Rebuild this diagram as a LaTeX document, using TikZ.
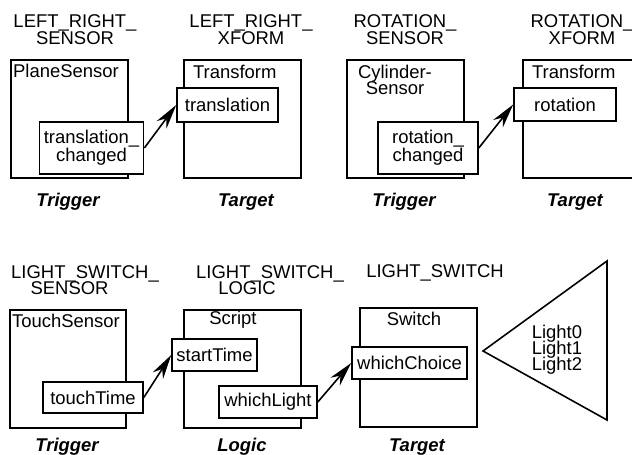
\documentclass[tikz,border=0pt]{standalone}
\usepackage{fontspec}
\setmainfont{Liberation Sans}
\usetikzlibrary{arrows.meta}
\newcommand{\tightlines}{\lineskiplimit=-10pt\relax}

\begin{document}
\begin{tikzpicture}[x=0.02cm, y=-0.02cm,
  every node/.style={font=\fontsize{10.5}{9.5}\selectfont\tightlines},
  blk/.style={draw, line width=0.9pt, inner sep=0pt, anchor=north west,
    minimum width=2.34cm, minimum height=2.36cm},
  port/.style={draw, fill=white, line width=0.9pt, inner xsep=2.5pt, inner ysep=1pt,
    minimum height=0.66cm, font=\fontsize{10.5}{10}\selectfont},
  hdr/.style={align=center},
  role/.style={font=\fontsize{10.5}{10}\selectfont\bfseries\itshape},
  arr/.style={-{Stealth[length=14pt, width=7pt]}, line width=0.9pt}]
  \useasboundingbox (0,0) rectangle (632,455);

  % Headers
  \node[hdr] (h1) at (75,30) {LEFT\_RIGHT\_\\SENSOR};
  \node[hdr] (h2) at (251,30) {LEFT\_RIGHT\_\\XFORM};
  \node[hdr] (h3) at (405,30) {ROTATION\_\\SENSOR};
  \node[hdr] (h4) at (582,30) {ROTATION\_\\XFORM};
  \node[align=left, anchor=west] (h5) at (5,280) {LIGHT\_SWITCH\_\\\hspace{1.05em}SENSOR};
  \node[align=left, anchor=west] (h6) at (190,280) {LIGHT\_SWITCH\_\\\hspace{1.2em}LOGIC};
  \node (h7) at (435,273) {LIGHT\_SWITCH};

  % Top row boxes
  \node[blk] (pls) at (10,59) {};
  \node[blk] (lrx) at (183,59) {};
  \node[blk] (rts) at (346,59) {};
  \node[blk] (rtx) at (522,59) {};
  \node[anchor=west, inner sep=1pt] (plsT) at (11,71) {PlaneSensor};
  \node[anchor=west, inner sep=1pt] (lrxT) at (191,72) {Transform};
  \node[align=center] (rtsT) at (395,80) {Cylinder-\\Sensor};
  \node[anchor=west, inner sep=1pt] (rtxT) at (530,72) {Transform};

  % Top row fields
  \node[port, minimum width=2.02cm, minimum height=1.04cm, align=center] (tc) at (91.5,148) {translation\_\\changed};
  \node[port, minimum width=2.02cm, minimum height=0.68cm] (tr) at (227.5,105) {translation};
  \node[port, minimum width=2.0cm, minimum height=1.04cm, align=center] (rc) at (428,148) {rotation\_\\changed};
  \node[port, minimum width=2.04cm] (ro) at (565,104.5) {rotation};

  \draw[arr] (tc.east) -- (tr.west);
  \draw[arr] (rc.east) -- (ro.west);

  \node[role] (r1) at (68,202) {Trigger};
  \node[role] (r2) at (246,202) {Target};
  \node[role] (r3) at (404,202) {Trigger};
  \node[role] (r4) at (575,202) {Target};

  % Bottom row boxes
  \node[blk, minimum width=2.32cm] (tsb) at (9,309) {};
  \node[blk] (scr) at (183,309) {};
  \node[blk, minimum height=2.38cm] (swb) at (359,307) {};
  \node[anchor=west, inner sep=1pt] (tsbT) at (10,321) {TouchSensor};
  \node (scrT) at (233,320) {Script};
  \node (swbT) at (414,319) {Switch};

  % Bottom row fields
  \node[port, minimum width=2.0cm, minimum height=0.62cm] (tt) at (93,397.5) {touchTime};
  \node[port, minimum width=1.7cm, minimum height=0.64cm, inner xsep=1pt] (st) at (214.5,355) {startTime};
  \node[port, minimum width=1.96cm, minimum height=0.64cm, inner xsep=1pt] (wl) at (268,402) {whichLight};
  \node[port, minimum width=2.3cm, minimum height=0.64cm] (wc) at (409.5,363) {whichChoice};

  \draw[arr] (tt.east) -- (st.west);
  \draw[arr] (wl.east) -- (wc.west);

  % Lights
  \coordinate (apex) at (483,351);
  \coordinate (ttop) at (607,261);
  \coordinate (tbot) at (607,420);
  \draw[line width=0.9pt, line join=miter] (apex) -- (ttop) -- (tbot) -- cycle;
  \node[align=center, font=\fontsize{10.5}{9}\selectfont\tightlines] (lights) at (557,350) {Light0\\Light1\\Light2};

  \node[role] (r5) at (67,447) {Trigger};
  \node[role] (r6) at (242,447) {Logic};
  \node[role] (r7) at (417,447) {Target};
\end{tikzpicture}
\end{document}
